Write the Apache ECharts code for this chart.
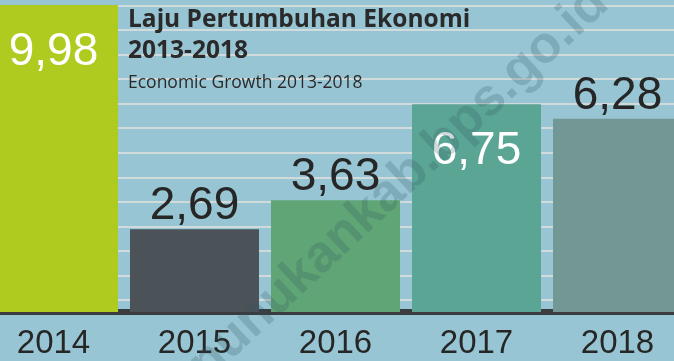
<!DOCTYPE html>
<html>
<head>
<meta charset="utf-8">
<style>
  html, body { margin: 0; padding: 0; background: #97c5d3; }
  #chart { width: 674px; height: 361px; }
</style>
<script src="https://cdn.jsdelivr.net/npm/echarts@6/dist/echarts.min.js"></script>
</head>
<body>
<div id="chart"></div>
<script>
// Annual economic growth (%), 2014-2018
const years = ['2014', '2015', '2016', '2017', '2018'];
const growth = [9.98, 2.69, 3.63, 6.75, 6.28];

const titleMain = 'Laju Pertumbuhan Ekonomi\n2013-2018';
const titleSub = 'Economic Growth 2013-2018';
const watermark = 'nunukankab.bps.go.id';

// bar fills, one per year
const barColors = ['#b0cb1f', '#4b5358', '#5fa575', '#5aa594', '#739794'];
// years whose value label sits inside the bar in white
const insideLabelYears = ['2014', '2017'];

const fmt = v => v.toFixed(2).replace('.', ',');

const chart = echarts.init(document.getElementById('chart'), null, { renderer: 'canvas' });

const barData = growth.map((v, i) => {
  const inside = insideLabelYears.includes(years[i]);
  return {
    value: v,
    itemStyle: { color: barColors[i] },
    label: inside
      ? { position: 'insideTop', distance: 24, color: '#ffffff' }
      : { position: 'top', distance: 0, color: '#262626' }
  };
});

chart.setOption({
  backgroundColor: '#97c5d3',
  animation: false,
  title: {
    text: titleMain,
    subtext: titleSub,
    left: 123,
    top: 0,
    itemGap: 7,
    textStyle: {
      fontFamily: 'Open Sans',
      fontWeight: 'bold',
      fontSize: 24.5,
      lineHeight: 31,
      color: '#2a2a2a'
    },
    subtextStyle: {
      fontFamily: 'Open Sans',
      fontSize: 17.5,
      color: '#2a2a2a'
    }
  },
  grid: [
    { left: -17, right: -14, top: 5, bottom: 49, containLabel: false, outerBoundsMode: 'none' },
    { left: 0, right: 0, top: 5.5, bottom: 61, containLabel: false, outerBoundsMode: 'none' }
  ],
  xAxis: [
    {
      type: 'category',
      gridIndex: 0,
      data: years,
      axisLine: { show: true, lineStyle: { color: '#3b3c40', width: 6 } },
      axisTick: { show: false },
      axisLabel: {
        margin: 15,
        fontFamily: 'Liberation Sans',
        fontSize: 33,
        color: '#262626'
      }
    },
    { type: 'value', gridIndex: 1, show: false, min: 0, max: 1 }
  ],
  yAxis: [
    {
      type: 'value',
      gridIndex: 0,
      min: 0,
      max: 9.98,
      show: false,
      splitLine: { show: false }
    },
    {
      // decorative horizontal stripes across the backdrop
      type: 'value',
      gridIndex: 1,
      min: 0,
      max: 12,
      interval: 1,
      axisLine: { show: false },
      axisTick: { show: false },
      axisLabel: { show: false },
      splitLine: { show: true, lineStyle: { color: '#e4e2de', width: 1.5 } }
    }
  ],
  series: [
    {
      type: 'bar',
      xAxisIndex: 0,
      yAxisIndex: 0,
      data: barData,
      barWidth: 129,
      z: 3,
      label: {
        show: true,
        fontFamily: 'Liberation Sans',
        fontSize: 46,
        formatter: p => fmt(p.value)
      }
    }
  ],
  graphic: [
    {
      type: 'text',
      x: 399,
      y: 184,
      rotation: 43 * Math.PI / 180,
      z: 100,
      silent: true,
      style: {
        text: watermark,
        x: 0,
        y: 0,
        align: 'center',
        verticalAlign: 'middle',
        textAlign: 'center',
        textVerticalAlign: 'middle',
        font: 'bold 52px "Liberation Sans"',
        fill: 'rgba(45, 80, 95, 0.22)'
      }
    }
  ]
});
</script>
</body>
</html>
